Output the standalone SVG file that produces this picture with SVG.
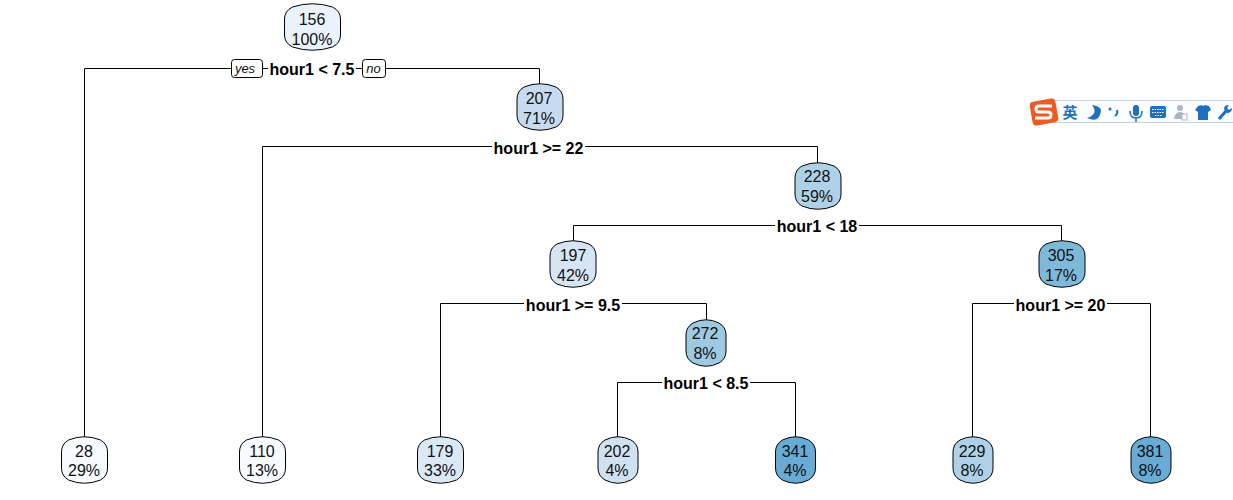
<svg xmlns="http://www.w3.org/2000/svg" width="1233" height="500" viewBox="0 0 1233 500">
<style>
text{font-family:"Liberation Sans",Arial,sans-serif;text-anchor:middle;fill:#111}
.n{font-size:16px}
.s{font-size:16px;font-weight:bold;fill:#000}
.i{font-size:13px;font-style:italic}
.box{stroke:#000;stroke-width:1}
.c{fill:none;stroke:#000;stroke-width:1}
.bg{fill:#fff}
.t{fill:#1e6fbf}
</style>
<defs>
<path id="w55" d="M-20-20Q0-26.500 20-20Q28-16 28-8V8Q28 16 20 20Q0 26.500-20 20Q-28 16-28 8V-8Q-28-16-20-20Z"/>
<path id="w46" d="M-16-20Q0-26.500 16-20Q23-16 23-8V8Q23 16 16 20Q0 26.500-16 20Q-23 16-23 8V-8Q-23-16-16-20Z"/>
<path id="w40" d="M-13-20Q0-26.500 13-20Q20-16 20-8V8Q20 16 13 20Q0 26.500-13 20Q-20 16-20 8V-8Q-20-16-13-20Z"/>
</defs>
<rect width="1233" height="500" fill="#fff"/>
<g id="connectors">
<path class="c" d="M84.500 437V68.500H539.500V84"/>
<path class="c" d="M262.500 437V146.500H817.500V163"/>
<path class="c" d="M573.500 241V225.500H1061.500V241"/>
<path class="c" d="M440.500 437V303.500H706.500V320"/>
<path class="c" d="M972.500 437V303.500H1150.500V437"/>
<path class="c" d="M617.500 437V382.500H795.500V437"/>
</g>
<g id="split-1"><rect class="bg" x="268" y="60" width="88" height="18"/><text class="s" x="312" y="75">hour1 &lt; 7.5</text></g>
<g id="yes"><rect class="box" x="231.500" y="59.500" width="31" height="18" rx="3" fill="#fff"/><text class="i" x="245" y="73">yes</text></g>
<g id="no"><rect class="box" x="362.500" y="59.500" width="23" height="18" rx="3" fill="#fff"/><text class="i" x="373.500" y="73">no</text></g>
<g id="split-2"><rect class="bg" x="492" y="139" width="93" height="18"/><text class="s" x="538.500" y="154">hour1 &gt;= 22</text></g>
<g id="split-3"><rect class="bg" x="775" y="218" width="84" height="18"/><text class="s" x="817" y="232">hour1 &lt; 18</text></g>
<g id="split-4"><rect class="bg" x="524" y="296" width="98" height="18"/><text class="s" x="573" y="311">hour1 &gt;= 9.5</text></g>
<g id="split-5"><rect class="bg" x="1014" y="296" width="93" height="18"/><text class="s" x="1060.500" y="311">hour1 &gt;= 20</text></g>
<g id="split-6"><rect class="bg" x="662" y="375" width="88" height="18"/><text class="s" x="706" y="389">hour1 &lt; 8.5</text></g>
<g id="node-156"><use href="#w55" x="312.500" y="27" fill="#eaf2fb" class="box"/><text class="n" x="312" y="25">156</text><text class="n" x="312" y="45">100%</text></g>
<g id="node-207"><use href="#w46" x="540" y="107" fill="#c6dbef" class="box"/><text class="n" x="539" y="104">207</text><text class="n" x="539" y="124">71%</text></g>
<g id="node-228"><use href="#w46" x="818" y="186" fill="#afd1e7" class="box"/><text class="n" x="817" y="182">228</text><text class="n" x="817" y="202">59%</text></g>
<g id="node-197"><use href="#w46" x="573" y="264" fill="#d6e5f4" class="box"/><text class="n" x="573" y="261">197</text><text class="n" x="573" y="281">42%</text></g>
<g id="node-305"><use href="#w46" x="1062" y="264" fill="#7fb9da" class="box"/><text class="n" x="1061" y="261">305</text><text class="n" x="1061" y="281">17%</text></g>
<g id="node-272"><use href="#w40" x="706" y="343" fill="#9ecae1" class="box"/><text class="n" x="705" y="339">272</text><text class="n" x="705" y="359">8%</text></g>
<g id="node-28"><use href="#w46" x="84.500" y="460" fill="#f7fbff" class="box"/><text class="n" x="84" y="457">28</text><text class="n" x="84" y="476">29%</text></g>
<g id="node-110"><use href="#w46" x="262.500" y="460" fill="#f7fbff" class="box"/><text class="n" x="262" y="457">110</text><text class="n" x="262" y="476">13%</text></g>
<g id="node-179"><use href="#w46" x="440.500" y="460" fill="#dbe9f6" class="box"/><text class="n" x="440" y="457">179</text><text class="n" x="440" y="476">33%</text></g>
<g id="node-202"><use href="#w40" x="618" y="460" fill="#d0e2f2" class="box"/><text class="n" x="617" y="457">202</text><text class="n" x="617" y="476">4%</text></g>
<g id="node-341"><use href="#w40" x="795.500" y="460" fill="#68abd5" class="box"/><text class="n" x="795" y="457">341</text><text class="n" x="795" y="476">4%</text></g>
<g id="node-229"><use href="#w40" x="973" y="460" fill="#afd1e7" class="box"/><text class="n" x="972" y="457">229</text><text class="n" x="972" y="476">8%</text></g>
<g id="node-381"><use href="#w40" x="1151" y="460" fill="#68abd5" class="box"/><text class="n" x="1150" y="457">381</text><text class="n" x="1150" y="476">8%</text></g>
<g id="ime-toolbar">
<rect x="1050" y="100" width="183" height="23" fill="#fafcfe"/>
<path d="M1050 100.500H1233M1050 122.500H1233" stroke="#c3d0df" fill="none"/>
<rect x="1031" y="100" width="26" height="24" rx="4" fill="#ee5a24" transform="rotate(-10 1044 112)"/>
<path d="M1052 106H1039Q1036 106 1036 109Q1036 112 1039 112H1048Q1051 112 1051 115Q1051 118 1048 118H1035" fill="none" stroke="#fff" stroke-width="3"/>
<text x="1070" y="118" style="font-family:'Noto Sans CJK SC',sans-serif;font-size:15px;font-weight:bold;fill:#1e6fbf">英</text>
<path class="t" d="M1092 105Q1099 114 1087 118Q1100 124 1101 110Q1100 106 1092 105Z"/>
<circle class="t" cx="1110" cy="109" r="1.500"/><path d="M1117 110Q1118 114 1115 116" fill="none" stroke="#1e6fbf" stroke-width="2"/>
<rect class="t" x="1133" y="105" width="6" height="11" rx="3"/><path d="M1130 111Q1130 118 1136 118Q1142 118 1142 111M1136 118V122" fill="none" stroke="#1e6fbf" stroke-width="1.500"/>
<rect x="1150" y="106" width="16" height="12" rx="2" fill="#1e6fbf"/><path d="M1152 109.500H1164M1152 112.500H1164M1155 115.500H1162" stroke="#fff" stroke-dasharray="1.500 1" fill="none"/>
<circle cx="1180" cy="108" r="3" fill="#a9b6c4"/><path d="M1174 119Q1175 112 1180 112Q1185 112 1186 119Z" fill="#a9b6c4"/><rect x="1182" y="114" width="5" height="6" fill="#fff" stroke="#a9b6c4"/>
<path class="t" d="M1198 106L1202 105Q1203 107 1205 105L1209 106L1211 110L1208 112V120H1198V112L1195 110Z"/>
<path d="M1219 119L1226 111" stroke="#1e6fbf" stroke-width="3" fill="none"/><path class="t" d="M1224 109Q1224 105 1229 105L1227 108L1229 110L1232 108Q1232 113 1227 113Z"/>
</g>
</svg>
